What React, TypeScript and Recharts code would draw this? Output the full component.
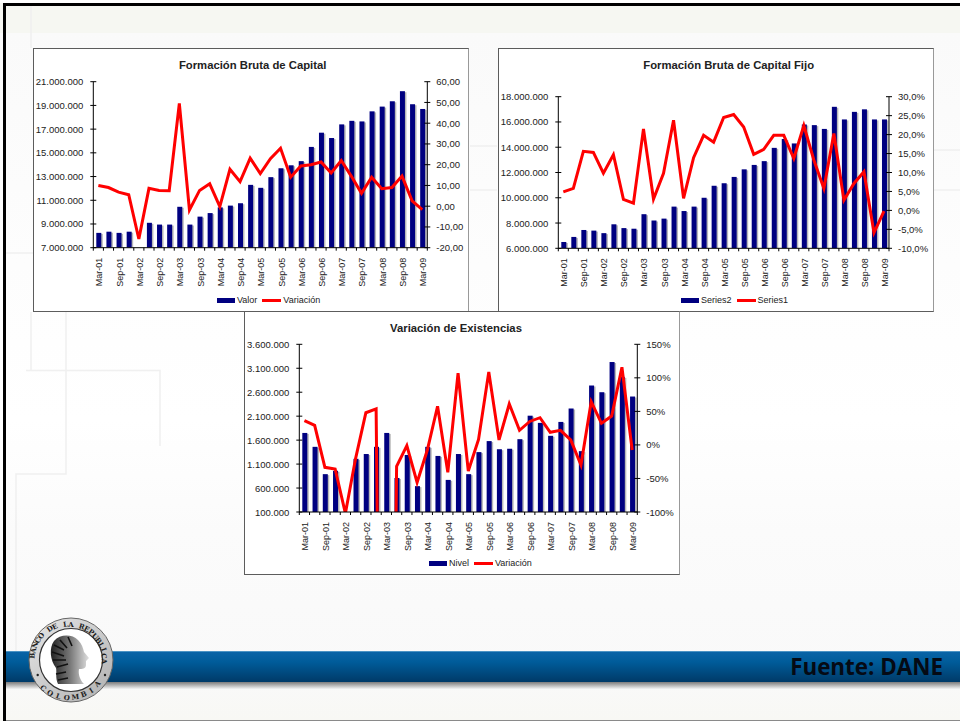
import { Bar, ComposedChart, Legend, Line, XAxis, YAxis } from 'recharts';

const NAVY = '#000080';
const RED = '#ff0000';
const FONT = '"Liberation Sans", Arial, sans-serif';

const quarters = [
  'Mar-01', 'Jun-01', 'Sep-01', 'Dic-01', 'Mar-02', 'Jun-02', 'Sep-02', 'Dic-02', 'Mar-03', 'Jun-03', 'Sep-03',
  'Dic-03', 'Mar-04', 'Jun-04', 'Sep-04', 'Dic-04', 'Mar-05', 'Jun-05', 'Sep-05', 'Dic-05', 'Mar-06', 'Jun-06',
  'Sep-06', 'Dic-06', 'Mar-07', 'Jun-07', 'Sep-07', 'Dic-07', 'Mar-08', 'Jun-08', 'Sep-08', 'Dic-08', 'Mar-09',
];

// Formación Bruta de Capital
const fbkValor = [
  8250000, 8350000, 8250000, 8350000, 7000000, 9100000, 8950000, 8950000, 10450000, 8950000, 9620000,
  9920000, 10400000, 10550000, 10750000, 12300000, 12050000, 12950000, 13700000, 13950000, 14300000, 15500000,
  16700000, 16250000, 17400000, 17700000, 17650000, 18500000, 18900000, 19350000, 20200000, 19100000, 18700000,
];
const fbkVariacion = [
  10, 9, 6.8, 5.5, -15.8, 8.6, 7.6, 7.5, 49.5, -1.8, 7.6, 10.8, -0.2, 17.8, 11.8, 23.2, 15.7, 22.9, 27.9, 14, 19.4,
  20, 21.3, 16, 22, 14.4, 6.2, 14, 8.4, 9, 14.5, 2.6, -1.7,
];
const fbkLeftTicks = [7000000, 9000000, 11000000, 13000000, 15000000, 17000000, 19000000, 21000000];
const fbkRightTicks = [-20, -10, 0, 10, 20, 30, 40, 50, 60];

// Formación Bruta de Capital Fijo
const fijoValor = [
  6500000, 6900000, 7450000, 7400000, 7200000, 7900000, 7600000, 7550000, 8700000, 8200000, 8350000,
  9300000, 8950000, 9300000, 10000000, 10950000, 11150000, 11650000, 12250000, 12600000, 12900000, 13950000,
  14650000, 14300000, 15800000, 15750000, 15450000, 17200000, 16200000, 16800000, 17000000, 16200000, 16200000,
];
const fijoVariacion = [
  4.9, 5.8, 15.6, 15.3, 9.8, 14.7, 2.9, 1.9, 21.5, 3, 9.8, 23.8, 3.2, 13.9, 19.8, 18, 24.5, 25.3, 22, 14.8, 16.1,
  19.8, 19.8, 13.7, 22.4, 13.3, 5.8, 20.3, 2.7, 7.1, 10.2, -5.9, -0.2,
];
const fijoLeftTicks = [6000000, 8000000, 10000000, 12000000, 14000000, 16000000, 18000000];
const fijoRightTicks = [-10, -5, 0, 5, 10, 15, 20, 25, 30];

// Variación de Existencias
const existNivel = [
  1750000, 1460000, 890000, 960000, 100000, 1210000, 1310000, 1460000, 1750000, 810000, 1290000,
  640000, 1460000, 1270000, 770000, 1310000, 890000, 1350000, 1580000, 1410000, 1420000, 1620000,
  2110000, 1960000, 1690000, 1980000, 2260000, 1370000, 2740000, 2600000, 3230000, 2920000, 2510000,
];
const existVariacion = [
  36.2, 29.2, -33.4, -35.9, -102, -20, 48, 53.6, -1400, -32, -1, -56, -7.6, 57.6, -40.9, 106.8, -39, 8.3, 108.7,
  7.4, 61, 21.8, 35, 40.6, 18.8, 21.8, 7.4, -30, 64.5, 32.2, 43, 115.7, -7.6,
];
const existLeftTicks = [100000, 600000, 1100000, 1600000, 2100000, 2600000, 3100000, 3600000];
const existRightTicks = [-100, -50, 0, 50, 100, 150];

const miles = (v: number) => String(v).replace(/\B(?=(\d{3})+$)/g, '.');
const coma2 = (v: number) => v.toFixed(2).replace('.', ',');
const coma1pct = (v: number) => `${v.toFixed(1).replace('.', ',')}%`;
const pct = (v: number) => `${v}%`;

function shadowBar(props: any) {
  const { x, y, width, height } = props;
  if (!height || height <= 0) return <g />;
  return (
    <g>
      <rect x={x + 1.5} y={y + 1} width={width} height={height - 1} fill="#b8b8b8" />
      <rect x={x} y={y} width={width} height={height} fill={NAVY} />
    </g>
  );
}

function ChartLegend({ barName, lineName }: { barName: string; lineName: string }) {
  const text = { fontFamily: FONT, fontSize: 9, color: '#222', lineHeight: '12px' };
  return (
    <div style={{ display: 'flex', alignItems: 'center', height: 12, whiteSpace: 'nowrap' }}>
      <span style={{ width: 18, height: 5, background: NAVY, marginRight: 2 }} />
      <span style={{ ...text, marginRight: 5 }}>{barName}</span>
      <span style={{ width: 19, height: 3, background: RED, marginRight: 2 }} />
      <span style={text}>{lineName}</span>
    </div>
  );
}

type PanelProps = {
  title: string;
  titleX: number;
  left: number;
  top: number;
  height: number;
  plot: { left: number; right: number; top: number; bottom: number };
  legendLeft: number;
  barName: string;
  lineName: string;
  bars: number[];
  line: number[];
  leftTicks: number[];
  rightTicks: number[];
  rightFormat: (v: number) => string;
};

function ChartPanel(p: PanelProps) {
  const width = 436;
  const data = quarters.map((q, i) => ({ q, bars: p.bars[i], line: p.line[i] }));
  const band = (width - p.plot.left - p.plot.right) / quarters.length;

  const xTick = ({ x, y, index, payload }: any) => (
    <g>
      <line x1={x - band / 2} x2={x - band / 2} y1={y} y2={y + 3} stroke="#000" />
      {index === quarters.length - 1 && <line x1={x + band / 2} x2={x + band / 2} y1={y} y2={y + 3} stroke="#000" />}
      {index % 2 === 0 && (
        <text
          x={x + 1}
          y={y + 10}
          transform={`rotate(-90 ${x + 1} ${y + 10})`}
          textAnchor="end"
          dominantBaseline="central"
          fontFamily={FONT}
          fontSize={9}
          fill="#222"
        >
          {payload.value}
        </text>
      )}
    </g>
  );
  const leftTick = ({ x, y, payload }: any) => (
    <g>
      <line x1={x - 3} x2={x + 3} y1={y} y2={y} stroke="#000" />
      <text x={x - 10} y={y} textAnchor="end" dominantBaseline="central" fontFamily={FONT} fontSize={9.5} fill="#222">
        {miles(payload.value)}
      </text>
    </g>
  );
  const rightTick = ({ x, y, payload }: any) => (
    <g>
      <line x1={x - 3} x2={x + 3} y1={y} y2={y} stroke="#000" />
      <text x={x + 9} y={y} textAnchor="start" dominantBaseline="central" fontFamily={FONT} fontSize={9.5} fill="#222">
        {p.rightFormat(payload.value)}
      </text>
    </g>
  );

  return (
    <div
      style={{
        position: 'absolute',
        left: p.left,
        top: p.top,
        width,
        height: p.height,
        boxSizing: 'border-box',
        background: '#fff',
        border: '1px solid #5c5c5c',
        borderRightColor: '#999',
      }}
    >
      <div
        style={{
          position: 'absolute',
          left: p.titleX - p.left - 150,
          top: 9,
          width: 300,
          textAlign: 'center',
          fontFamily: FONT,
          fontWeight: 'bold',
          fontSize: 11.3,
          lineHeight: '14px',
          color: '#222',
        }}
      >
        {p.title}
      </div>
      <div style={{ position: 'absolute', left: -1, top: -1 }}>
        <ComposedChart
          width={width}
          height={p.height}
          data={data}
          barCategoryGap="0%"
          margin={{ top: p.plot.top, left: 0, right: 0, bottom: 0 }}
        >
          <XAxis
            dataKey="q"
            interval={0}
            height={p.plot.bottom}
            tickSize={0}
            tickMargin={0}
            tickLine={false}
            tick={xTick}
            axisLine={{ stroke: '#000' }}
          />
          <YAxis
            yAxisId="left"
            width={p.plot.left}
            domain={[p.leftTicks[0], p.leftTicks[p.leftTicks.length - 1]]}
            ticks={p.leftTicks}
            allowDataOverflow
            interval={0}
            tickSize={0}
            tickMargin={0}
            tickLine={false}
            tick={leftTick}
            axisLine={{ stroke: '#000' }}
          />
          <YAxis
            yAxisId="right"
            orientation="right"
            width={p.plot.right}
            domain={[p.rightTicks[0], p.rightTicks[p.rightTicks.length - 1]]}
            ticks={p.rightTicks}
            allowDataOverflow
            interval={0}
            tickSize={0}
            tickMargin={0}
            tickLine={false}
            tick={rightTick}
            axisLine={{ stroke: '#000' }}
          />
          <Legend
            verticalAlign="middle"
            align="center"
            wrapperStyle={{ top: p.height - 18, left: p.legendLeft, width: 'auto', bottom: 'auto', right: 'auto' }}
            content={() => <ChartLegend barName={p.barName} lineName={p.lineName} />}
          />
          <Bar yAxisId="left" dataKey="bars" barSize={5} shape={shadowBar} isAnimationActive={false} />
          <Line
            yAxisId="right"
            dataKey="line"
            type="linear"
            stroke={RED}
            strokeWidth={3}
            dot={false}
            activeDot={false}
            isAnimationActive={false}
          />
        </ComposedChart>
      </div>
    </div>
  );
}

// one <text> with a position and a rotation per glyph, so the string stays whole
function ArcText({ str, r, start, step, bottom }: { str: string; r: number; start: number; step: number; bottom?: boolean }) {
  const cx = 71;
  const cy = 660;
  const angles = Array.from(str).map((_, i) => ((start + i * step) * Math.PI) / 180);
  const xs = angles.map((a) => (cx + r * Math.sin(a)).toFixed(1)).join(' ');
  const ys = angles.map((a) => (bottom ? cy + r * Math.cos(a) : cy - r * Math.cos(a)).toFixed(1)).join(' ');
  const rot = angles.map((a) => ((bottom ? -a : a) * 180 / Math.PI).toFixed(1)).join(' ');
  return (
    <text x={xs} y={ys} rotate={rot} textAnchor="middle" fontFamily='"DejaVu Serif", serif' fontWeight="bold" fontSize={7} fill="#1c1c1c">
      {str}
    </text>
  );
}

function Logo() {
  return (
    <g>
      <defs>
        <linearGradient id="ringFill" x1="0" y1="0" x2="1" y2="1">
          <stop offset="0%" stopColor="#e6e6e6" />
          <stop offset="100%" stopColor="#b0b0b0" />
        </linearGradient>
        <linearGradient id="headFill" x1="0" y1="0" x2="1" y2="0">
          <stop offset="0%" stopColor="#222" />
          <stop offset="50%" stopColor="#777" />
          <stop offset="100%" stopColor="#e0e0e0" />
        </linearGradient>
      </defs>
      <circle cx={71} cy={660} r={42} fill="url(#ringFill)" stroke="#666" strokeWidth={1} />
      <circle cx={71} cy={660} r={31.5} fill="#fff" stroke="#333" strokeWidth={1.2} />
      <path
        d="M 58 684 C 55 678 57 672 56 668 C 50 660 49 648 54 641 C 60 634 72 634 78 640 C 82 644 83 648 84 652 L 89 658 L 86 661 L 86 665 C 86 669 82 669 79 669 C 78 674 80 680 84 684 Z"
        fill="url(#headFill)"
      />
      <path
        d="M 54 645 L 64 650 M 52 652 L 64 656 M 53 660 L 66 660 M 57 667 L 68 664 M 60 640 L 67 648 M 68 637 L 72 646 M 56 674 L 66 672 M 58 680 L 68 678"
        stroke="#111"
        strokeWidth={1.6}
      />
      <ArcText str="BANCO DE LA REPUBLICA" r={33.5} start={-88} step={8.8} />
      <ArcText str="COLOMBIA" r={40} start={-46} step={13.2} bottom />
      <circle cx={37.7} cy={675} r={1.2} fill="#222" />
      <circle cx={105} cy={675} r={1.2} fill="#222" />
    </g>
  );
}

function Backdrop() {
  return (
    <svg width={960} height={721} style={{ position: 'absolute', left: 0, top: 0 }}>
      <defs>
        <linearGradient id="band" x1="0" y1="0" x2="0" y2="1">
          <stop offset="0%" stopColor="#0a64a8" />
          <stop offset="35%" stopColor="#005c9a" />
          <stop offset="100%" stopColor="#003a68" />
        </linearGradient>
        <linearGradient id="bandShadow" x1="0" y1="0" x2="0" y2="1">
          <stop offset="0%" stopColor="#7d7d7d" />
          <stop offset="100%" stopColor="#f4f4f4" />
        </linearGradient>
      </defs>
      <g fill="none" stroke="#f0f0f0" strokeWidth={1.5}>
        <path d="M 31 6 V 48 M 31 312 V 370.5 M 26 370.5 H 160 V 446 M 66 312 V 474 H 16 V 651" />
        <path d="M 470 190 H 497 M 934 190 H 960 M 934 150 H 960 M 470 146 H 497 M 6 253 H 33" />
      </g>
      <rect x={6} y={682} width={954} height={7} fill="url(#bandShadow)" />
      <rect x={6} y={651} width={954} height={31} fill="url(#band)" />
      <rect x={6} y={651} width={954} height={1} fill="#4b93c4" />
      <text
        x={943}
        y={675}
        textAnchor="end"
        fontFamily='"Open Sans", sans-serif'
        fontWeight="bold"
        fontSize={22.4}
        fill="#050a14"
      >
        Fuente: DANE
      </text>
      <Logo />
      <rect x={3} y={3} width={957} height={3} fill="#000" />
      <rect x={3} y={3} width={3} height={718} fill="#000" />
      <rect x={6} y={720} width={954} height={1} fill="#8a8a8a" />
    </svg>
  );
}

export default function App() {
  return (
    <div
      style={{
        position: 'absolute',
        left: 0,
        top: 0,
        width: 960,
        height: 721,
        overflow: 'hidden',
        background:
          'linear-gradient(to bottom, #fff 0, #fff 3px, #f6f7f2 3px, #f6f7f2 33px, #fafafa 33px, #fff 420px, #fbfbfb 530px, #f9f9f9 680px, #f8f8f4 721px)',
      }}
    >
      <Backdrop />
      <ChartPanel
        title="Formación Bruta de Capital"
        titleX={251.7}
        left={33}
        top={48}
        height={264}
        plot={{ left: 60.3, right: 41.7, top: 33.7, bottom: 64.3 }}
        legendLeft={184}
        barName="Valor"
        lineName="Variación"
        bars={fbkValor}
        line={fbkVariacion}
        leftTicks={fbkLeftTicks}
        rightTicks={fbkRightTicks}
        rightFormat={coma2}
      />
      <ChartPanel
        title="Formación Bruta de Capital Fijo"
        titleX={727.7}
        left={498}
        top={48}
        height={264}
        plot={{ left: 60.3, right: 45, top: 48.7, bottom: 63.7 }}
        legendLeft={183}
        barName="Series2"
        lineName="Series1"
        bars={fijoValor}
        line={fijoVariacion}
        leftTicks={fijoLeftTicks}
        rightTicks={fijoRightTicks}
        rightFormat={coma1pct}
      />
      <ChartPanel
        title="Variación de Existencias"
        titleX={455}
        left={244}
        top={311}
        height={264}
        plot={{ left: 55.3, right: 42.7, top: 33.3, bottom: 63 }}
        legendLeft={185}
        barName="Nivel"
        lineName="Variación"
        bars={existNivel}
        line={existVariacion}
        leftTicks={existLeftTicks}
        rightTicks={existRightTicks}
        rightFormat={pct}
      />
    </div>
  );
}
